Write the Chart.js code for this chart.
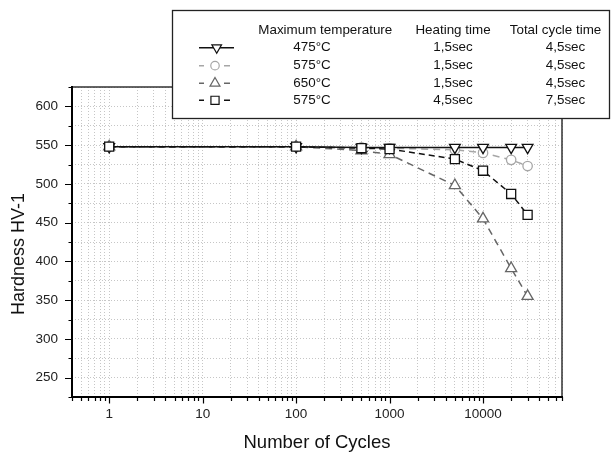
<!DOCTYPE html>
<html>
<head>
<meta charset="utf-8">
<script src="https://cdn.jsdelivr.net/npm/chart.js@4.4.1/dist/chart.umd.min.js"></script>
<style>
  html, body { margin: 0; padding: 0; background: #fff; }
  canvas { display: block; }
</style>
</head>
<body>
<canvas id="hardnessChart" width="614" height="454"></canvas>
<script>
(function () {
  'use strict';

  // Cycle counts where hardness was measured
  const cycles = [1, 100, 500, 1000, 5000, 10000, 20000, 30000];

  // Hardness HV-1 for each thermal cycling condition
  const hv475short = [548, 548, 547, 547, 547, 547, 547, 547];
  const hv575short = [548, 548, 547, 546, 544, 540, 531, 523];
  const hv650short = [548, 548, 543, 538, 498, 455, 391, 355];
  const hv575long = [548, 548, 546, 545, 532, 517, 487, 460];

  // Legend table rows
  const legendHeaders = ['Maximum temperature', 'Heating time', 'Total cycle time'];
  const maxTemps = ['475°C', '575°C', '650°C', '575°C'];
  const heatTimes = ['1,5sec', '1,5sec', '1,5sec', '4,5sec'];
  const cycleTimes = ['4,5sec', '4,5sec', '4,5sec', '7,5sec'];

  // Axis labels
  const xTickLabels = [1, 10, 100, 1000, 10000];
  const yTickLabels = [250, 300, 350, 400, 450, 500, 550, 600];

  const FONT = '"Liberation Sans", Arial, sans-serif';

  // log ticks 1..9 per decade between the axis limits
  const xMin = 0.4, xMax = 70000;
  const xTickValues = [];
  for (let e = -1; e <= 4; e++) {
    for (let m = 1; m <= 9; m++) {
      const v = m * Math.pow(10, e);
      if (v >= xMin - 1e-9 && v <= xMax + 1e-6) xTickValues.push(v);
    }
  }

  // order: lower value is painted on top (squares over the rest)
  const series = [
    { data: hv475short, color: '#111', style: 'triangle', rotation: 180, radius: 6.2, dash: [], order: 1 },
    { data: hv575short, color: '#a6a6a6', style: 'circle', rotation: 0, radius: 4.7, dash: [7, 5], order: 3 },
    { data: hv650short, color: '#666', style: 'triangle', rotation: 0, radius: 6.4, dash: [7, 5], order: 2 },
    { data: hv575long, color: '#111', style: 'rect', rotation: 0, radius: 6.4, dash: [6, 4], order: 0 }
  ];

  const datasets = series.map((s, i) => ({
    label: maxTemps[i],
    data: cycles.map((c, j) => ({ x: c, y: s.data[j] })),
    order: s.order,
    borderColor: s.color,
    borderWidth: 1.5,
    borderDash: s.dash,
    pointStyle: s.style,
    pointRotation: s.rotation,
    pointRadius: s.radius,
    pointBorderWidth: 1.3,
    pointBorderColor: s.color,
    pointBackgroundColor: '#fff',
    tension: 0,
    clip: false
  }));

  // frame, tick marks, axis titles and the legend table
  const decorations = {
    id: 'decorations',
    afterDraw(chart) {
      const ctx = chart.ctx;
      const area = chart.chartArea;
      const xs = chart.scales.x, ys = chart.scales.y;
      ctx.save();

      // top and right frame
      ctx.strokeStyle = '#333';
      ctx.lineWidth = 1.5;
      ctx.beginPath();
      ctx.moveTo(area.left, area.top);
      ctx.lineTo(area.right, area.top);
      ctx.lineTo(area.right, area.bottom);
      ctx.stroke();

      // left and bottom axis lines
      ctx.strokeStyle = '#000';
      ctx.lineWidth = 2;
      ctx.beginPath();
      ctx.moveTo(area.left, area.top - 1);
      ctx.lineTo(area.left, area.bottom);
      ctx.lineTo(area.right + 1, area.bottom);
      ctx.stroke();

      // tick marks
      ctx.lineWidth = 1.2;
      ctx.beginPath();
      xTickValues.forEach(v => {
        const px = Math.round(xs.getPixelForValue(v)) + 0.5;
        const major = xTickLabels.indexOf(v) >= 0;
        ctx.moveTo(px, area.bottom);
        ctx.lineTo(px, area.bottom + (major ? 6.5 : 4));
      });
      ys.ticks.forEach(t => {
        const py = Math.round(ys.getPixelForValue(t.value)) + 0.5;
        const major = t.value % 50 === 0;
        ctx.moveTo(area.left, py);
        ctx.lineTo(area.left - (major ? 7 : 3.5), py);
      });
      ctx.stroke();

      // axis titles
      ctx.fillStyle = '#111';
      ctx.textAlign = 'center';
      ctx.textBaseline = 'middle';
      ctx.font = '18.5px ' + FONT;
      ctx.fillText('Number of Cycles', (area.left + area.right) / 2, 443);
      ctx.save();
      ctx.translate(19, (area.top + area.bottom) / 2 + 12);
      ctx.rotate(-Math.PI / 2);
      ctx.font = '18px ' + FONT;
      ctx.fillText('Hardness HV-1', 0, 0);
      ctx.restore();

      // legend box
      const box = { left: 172.5, top: 10.5, right: 609.5, bottom: 118.5 };
      ctx.fillStyle = '#fff';
      ctx.fillRect(box.left, box.top, box.right - box.left, box.bottom - box.top);
      ctx.strokeStyle = '#222';
      ctx.lineWidth = 1.3;
      ctx.strokeRect(box.left, box.top, box.right - box.left, box.bottom - box.top);

      ctx.fillStyle = '#111';
      ctx.font = '13.4px ' + FONT;
      ctx.textBaseline = 'middle';
      ctx.textAlign = 'center';
      ctx.fillText(legendHeaders[0], 325.3, 30);
      ctx.fillText(legendHeaders[1], 453, 30);
      ctx.fillText(legendHeaders[2], 555.5, 30);

      const rowY = [47.7, 65.7, 83.3, 100.3];
      rowY.forEach((y, i) => {
        const s = series[i];
        ctx.fillStyle = '#111';
        ctx.textAlign = 'left';
        ctx.fillText(maxTemps[i], 293.3, y);
        ctx.textAlign = 'center';
        ctx.fillText(heatTimes[i], 453, y);
        ctx.fillText(cycleTimes[i], 565.5, y);

        // line sample
        ctx.strokeStyle = s.color;
        ctx.lineWidth = 1.5;
        ctx.setLineDash([]);
        ctx.beginPath();
        if (i === 0) {
          ctx.moveTo(199, y);
          ctx.lineTo(234, y);
        } else {
          ctx.moveTo(199, y);
          ctx.lineTo(204, y);
          ctx.moveTo(224, y);
          ctx.lineTo(230, y);
        }
        ctx.stroke();

        // marker sample
        ctx.fillStyle = '#fff';
        ctx.lineWidth = 1.2;
        Chart.helpers.drawPoint(ctx, {
          pointStyle: s.style,
          rotation: s.rotation,
          radius: s.radius * 0.9,
          borderWidth: 1.2
        }, i === 0 ? 216.7 : 215, y);
      });

      ctx.restore();
    }
  };

  new Chart(document.getElementById('hardnessChart'), {
    type: 'line',
    data: { datasets: datasets },
    options: {
      responsive: false,
      animation: false,
      layout: { padding: { top: 87, right: 52, left: 0, bottom: 0 } },
      plugins: {
        legend: { display: false },
        tooltip: { enabled: false }
      },
      scales: {
        x: {
          type: 'logarithmic',
          min: xMin,
          max: xMax,
          afterBuildTicks: scale => {
            scale.ticks = xTickValues.map(v => ({ value: v }));
          },
          afterFit: scale => { scale.height = 57; },
          grid: { color: '#c6c6c6', lineWidth: 1, drawTicks: false },
          border: { display: false, dash: [1, 2] },
          ticks: {
            autoSkip: false,
            maxRotation: 0,
            padding: 9,
            color: '#222',
            font: { family: FONT, size: 13.5 },
            callback: v => (xTickLabels.indexOf(v) >= 0 ? String(v) : '')
          }
        },
        y: {
          min: 225,
          max: 625,
          afterFit: scale => { scale.width = 72; },
          grid: { color: '#c6c6c6', lineWidth: 1, drawTicks: false },
          border: { display: false, dash: [1, 2] },
          ticks: {
            stepSize: 25,
            autoSkip: false,
            padding: 14,
            color: '#222',
            font: { family: FONT, size: 13.5 },
            callback: v => (yTickLabels.indexOf(v) >= 0 ? String(v) : '')
          }
        }
      }
    },
    plugins: [decorations]
  });
})();
</script>
</body>
</html>
